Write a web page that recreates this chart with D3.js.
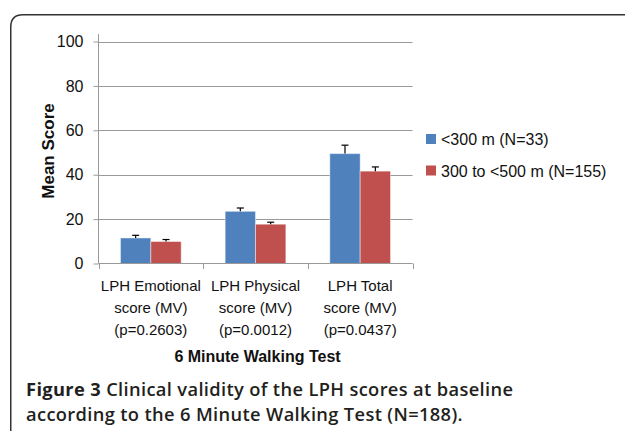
<!DOCTYPE html>
<html><head><meta charset="utf-8">
<script src="https://cdn.jsdelivr.net/npm/d3@7"></script>
<style>body{margin:0;background:#fff;}svg{display:block;}</style>
</head><body>
<svg id="c" width="625" height="431"></svg>
<script>
const categories = [["LPH Emotional","score (MV)","(p=0.2603)"],["LPH Physical","score (MV)","(p=0.0012)"],["LPH Total","score (MV)","(p=0.0437)"]];
const seriesNames = ["<300 m (N=33)","300 to <500 m (N=155)"];
const seriesColors = ["#4F81BD","#C0504D"];
const blueValues = [11.5, 23.5, 49.5];
const blueErrors = [1.2, 1.5, 3.8];
const redValues = [9.9, 17.7, 41.6];
const redErrors = [0.9, 0.9, 1.9];
const yTicks = [0,20,40,60,80,100];

const FONT = "'Liberation Sans', Arial, sans-serif";
const svg = d3.select("#c");
// frame
svg.append("path")
  .attr("d","M10.75,440 L10.75,27 Q10.75,14.75 23,14.75 L640,14.75")
  .attr("fill","none").attr("stroke","#333").attr("stroke-width",1.5);

const x0 = d3.scaleBand().domain(d3.range(categories.length)).range([98.5,412.5]).paddingInner(0.42).paddingOuter(0.21);
const xb = d3.scaleBand().domain([0,1]).range([0,x0.bandwidth()]);
const xc = d3.scaleBand().domain(d3.range(categories.length)).range([98.5,412.5]);
const y = d3.scaleLinear().domain([0,100]).range([263.5,41.5]);

// gridlines
svg.append("g").selectAll("line").data(yTicks.slice(1)).join("line")
  .attr("x1",98.5).attr("x2",412.5).attr("y1",d=>Math.round(y(d))+0.5).attr("y2",d=>Math.round(y(d))+0.5)
  .attr("stroke","#999").attr("stroke-width",1);

// y axis
const ya = svg.append("g").attr("transform","translate(98.5,0)")
  .call(d3.axisLeft(y).tickValues(yTicks).tickSize(5).tickPadding(10));
ya.select(".domain").attr("stroke","#999").attr("d","M0,"+(y(0))+"V34");
ya.selectAll(".tick line").attr("stroke","#999");
ya.selectAll(".tick text").attr("font-family",FONT).attr("font-size",16).attr("fill","#111");

// bars
const data = categories.map((c,i)=>[
  {s:0,v:blueValues[i],e:blueErrors[i],i},
  {s:1,v:redValues[i],e:redErrors[i],i}]);
const g = svg.append("g");
data.forEach((grp,i)=>{
  grp.forEach(d=>{
    const bx = x0(i)+xb(d.s);
    g.append("rect").attr("x",bx).attr("y",y(d.v)).attr("width",xb.bandwidth()).attr("height",y(0)-y(d.v))
      .attr("fill",seriesColors[d.s]).attr("stroke","rgba(255,255,255,0.45)").attr("stroke-width",1);
    const cx = bx + xb.bandwidth()/2;
    g.append("line").attr("x1",cx).attr("x2",cx).attr("y1",y(d.v)).attr("y2",y(d.v+d.e)).attr("stroke","#000").attr("stroke-width",1.2);
    g.append("line").attr("x1",cx-3.5).attr("x2",cx+3.5).attr("y1",y(d.v+d.e)).attr("y2",y(d.v+d.e)).attr("stroke","#000").attr("stroke-width",1.2);
  });
});

// x axis
svg.append("line").attr("x1",98.5).attr("x2",412.5).attr("y1",263.5).attr("y2",263.5).attr("stroke","#999");
const bounds = [98.5].concat(d3.range(categories.length).map(i=>xc(i)+xc.bandwidth()));
svg.append("g").selectAll("line").data(bounds).join("line")
  .attr("x1",d=>Math.round(d)+0.5).attr("x2",d=>Math.round(d)+0.5).attr("y1",263.5).attr("y2",269)
  .attr("stroke","#999");
// category labels
categories.forEach((lines,i)=>{
  const t = svg.append("text").attr("x",xc(i)+xc.bandwidth()/2).attr("y",290.5)
    .attr("text-anchor","middle").attr("font-family",FONT).attr("font-size",15).attr("fill","#111");
  lines.forEach((l,k)=>t.append("tspan").attr("x",xc(i)+xc.bandwidth()/2).attr("y",290.5+k*22.3).text(l));
});
svg.append("text").attr("x",257.5).attr("y",361.5).attr("text-anchor","middle")
  .attr("font-family",FONT).attr("font-size",16).attr("font-weight","bold").attr("fill","#111")
  .text("6 Minute Walking Test");
svg.append("text").attr("transform","translate(54,151) rotate(-90)").attr("text-anchor","middle")
  .attr("font-family",FONT).attr("font-size",17).attr("font-weight","bold").attr("fill","#111")
  .text("Mean Score");

// legend
seriesNames.forEach((n,k)=>{
  const cy = 139 + k*31.5;
  svg.append("rect").attr("x",426).attr("y",cy-5).attr("width",10).attr("height",10).attr("fill",seriesColors[k]);
  svg.append("text").attr("x",441).attr("y",cy+6).attr("font-family",FONT)
    .attr("font-size",16).attr("fill","#111").text(n);
});

// caption
const cap = svg.append("g").attr("font-family","'Open Sans', 'Noto Sans', sans-serif").attr("font-size",18.3)
  .attr("font-weight",600).attr("letter-spacing",0.35).attr("fill","#231f20");
const t1 = cap.append("text").attr("x",26).attr("y",396);
t1.append("tspan").attr("font-weight","bold").text("Figure 3");
t1.append("tspan").text(" Clinical validity of the LPH scores at baseline");
cap.append("text").attr("x",26).attr("y",421).text("according to the 6 Minute Walking Test (N=188).");
</script>
</body></html>
